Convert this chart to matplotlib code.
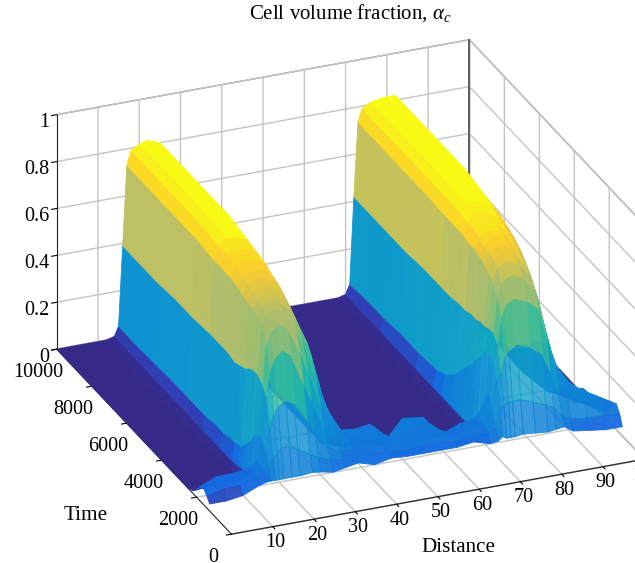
import numpy as np
import matplotlib
matplotlib.use('Agg')
import matplotlib.pyplot as plt
from matplotlib.colors import LinearSegmentedColormap

distance = [0, 4, 8, 12, 14, 15, 16, 17, 18, 20, 22, 25, 27, 30, 33, 36, 40, 44, 48, 52, 56, 60, 64, 68,
            70, 71, 72, 73, 74, 76, 79, 82, 84, 86, 88, 92, 96, 100]
time = [1250, 1400, 1600, 1800, 2000, 2250, 2500, 2750, 3000, 3300, 3600, 4000, 4500, 5000, 6000, 7000, 8000, 9000, 10000]

# one line per distance, values along time
alpha_c = [
    [.03, .05, .07, .06, .03, .01, 0, 0, 0, 0, 0, 0, 0, 0, 0, 0, 0, 0, 0],
    [.03, .07, .09, .09, .05, .01, 0, 0, 0, 0, 0, 0, 0, 0, 0, 0, 0, 0, 0],
    [.04, .07, .09, .09, .06, .01, 0, 0, 0, 0, 0, 0, 0, 0, 0, 0, 0, 0, 0],
    [.07, .09, .10, .10, .07, .02, .005, 0, 0, 0, 0, 0, 0, 0, 0, 0, 0, 0, 0],
    [.08, .10, .12, .13, .10, .05, .03, .02, .015, .01, .01, .01, .01, .01, .01, .01, .01, .01, .01],
    [.08, .12, .18, .22, .22, .20, .15, .12, .09, .08, .08, .07, .07, .06, .06, .06, .055, .05, .05],
    [.08, .16, .28, .40, .43, .45, .45, .44, .42, .41, .40, .41, .41, .41, .40, .40, .39, .39, .39],
    [.08, .18, .33, .50, .60, .66, .68, .69, .69, .70, .71, .72, .72, .72, .73, .73, .73, .73, .73],
    [.08, .20, .36, .55, .65, .70, .72, .73, .74, .75, .76, .77, .78, .78, .79, .79, .79, .79, .79],
    [.08, .20, .38, .58, .67, .71, .73, .74, .75, .76, .77, .78, .79, .80, .81, .81, .81, .81, .81],
    [.08, .18, .36, .55, .65, .70, .72, .74, .75, .76, .77, .78, .79, .80, .82, .82, .82, .82, .82],
    [.085, .15, .28, .42, .54, .62, .67, .69, .71, .73, .74, .76, .77, .78, .80, .80, .80, .80, .80],
    [.08, .13, .22, .34, .45, .53, .58, .62, .64, .66, .68, .69, .70, .71, .70, .68, .68, .68, .68],
    [.07, .11, .15, .22, .30, .38, .46, .50, .50, .50, .48, .47, .45, .43, .40, .40, .40, .40, .40],
    [.08, .10, .12, .16, .20, .24, .26, .25, .20, .14, .12, .11, .10, .10, .10, .10, .10, .10, .10],
    [.09, .11, .12, .13, .14, .15, .13, .08, .03, .01, .01, .01, .01, .01, .01, .01, .01, .01, .01],
    [.07, .10, .12, .13, .14, .14, .12, .03, .005, 0, 0, 0, 0, 0, 0, 0, 0, 0, 0],
    [.085, .10, .12, .13, .14, .14, .13, .03, .005, 0, 0, 0, 0, 0, 0, 0, 0, 0, 0],
    [.08, .09, .10, .10, .09, .07, .05, .01, 0, 0, 0, 0, 0, 0, 0, 0, 0, 0, 0],
    [.08, .10, .12, .13, .14, .14, .13, .02, 0, 0, 0, 0, 0, 0, 0, 0, 0, 0, 0],
    [.08, .10, .12, .13, .14, .14, .12, .02, 0, 0, 0, 0, 0, 0, 0, 0, 0, 0, 0],
    [.08, .09, .10, .10, .08, .05, .03, .005, 0, 0, 0, 0, 0, 0, 0, 0, 0, 0, 0],
    [.09, .10, .12, .12, .11, .08, .04, .005, 0, 0, 0, 0, 0, 0, 0, 0, 0, 0, 0],
    [.07, .10, .12, .13, .12, .09, .04, .01, .005, 0, 0, 0, 0, 0, 0, 0, 0, 0, 0],
    [.075, .12, .18, .23, .20, .13, .05, .02, .015, .01, .01, .01, .01, .01, .01, .01, .01, .01, .01],
    [.09, .20, .30, .36, .38, .38, .34, .30, .26, .23, .19, .14, .10, .08, .07, .07, .06, .06, .05],
    [.08, .20, .33, .44, .47, .47, .46, .46, .45, .45, .44, .44, .43, .43, .43, .42, .42, .42, .42],
    [.08, .22, .40, .55, .62, .66, .68, .70, .71, .72, .72, .73, .73, .73, .735, .735, .735, .735, .735],
    [.08, .22, .42, .60, .68, .72, .74, .75, .76, .77, .78, .78, .79, .79, .79, .79, .79, .79, .79],
    [.085, .22, .44, .62, .70, .74, .76, .77, .78, .79, .80, .80, .81, .81, .81, .81, .81, .81, .81],
    [.08, .20, .42, .60, .68, .72, .74, .76, .77, .78, .79, .80, .81, .82, .82, .82, .82, .82, .82],
    [.075, .18, .38, .56, .62, .66, .68, .70, .72, .74, .75, .76, .78, .80, .82, .82, .82, .82, .82],
    [.08, .16, .30, .42, .48, .54, .58, .62, .65, .68, .70, .72, .74, .75, .75, .72, .72, .72, .72],
    [.085, .12, .20, .30, .34, .38, .42, .46, .50, .52, .54, .55, .55, .52, .45, .42, .40, .40, .40],
    [.06, .10, .22, .24, .24, .26, .28, .30, .30, .28, .25, .20, .16, .13, .10, .10, .10, .10, .10],
    [.05, .09, .20, .18, .17, .16, .14, .11, .08, .05, .03, .02, .01, 0, 0, 0, 0, 0, 0],
    [.04, .09, .13, .14, .13, .10, .07, .04, .02, .01, 0, 0, 0, 0, 0, 0, 0, 0, 0],
    [.04, .08, .11, .10, .06, .03, .01, 0, 0, 0, 0, 0, 0, 0, 0, 0, 0, 0, 0],
]

distance_ticks = [10, 20, 30, 40, 50, 60, 70, 80, 90, 100]
time_ticks = [0, 2000, 4000, 6000, 8000, 10000]
fraction_ticks = [0, 0.2, 0.4, 0.6, 0.8, 1]
fraction_labels = ['0', '0.2', '0.4', '0.6', '0.8', '1']

plt.rcParams['font.family'] = 'Liberation Serif'
plt.rcParams['mathtext.fontset'] = 'custom'
plt.rcParams['mathtext.rm'] = 'Liberation Serif'
plt.rcParams['mathtext.it'] = 'Liberation Serif:italic'
plt.rcParams['grid.color'] = '#c4c4c4'
plt.rcParams['grid.linewidth'] = 1.0

# parula, stretched a bit to get the bands of the picture
cmap = LinearSegmentedColormap.from_list('bands', [
    (0.0, (53/255, 42/255, 135/255)), (0.036, (50/255, 52/255, 160/255)), (0.07, (48/255, 62/255, 180/255)),
    (0.11, (20/255, 105/255, 225/255)), (0.18, (15/255, 125/255, 215/255)), (0.47, (15/255, 145/255, 210/255)),
    (0.6, (15/255, 170/255, 190/255)), (0.72, (60/255, 190/255, 150/255)), (0.84, (165/255, 190/255, 110/255)),
    (0.88, (178/255, 190/255, 108/255)), (0.95, (252/255, 205/255, 45/255)), (1.0, (248/255, 250/255, 20/255))])

X, Y = np.meshgrid(distance, time)
Z = np.array(alpha_c).T

# each quad takes the colour of its highest corner, steep quads let the back show through
top = np.maximum.reduce([Z[:-1, :-1], Z[1:, :-1], Z[:-1, 1:], Z[1:, 1:]])
colors = np.ones(Z.shape + (4,))
colors[:-1, :-1] = cmap(top / Z.max())
slope = np.abs(np.diff(Z, axis=0))[:, :-1] / np.diff(time)[:, None]
colors[:-1, :-1, 3] = 1 - np.clip(slope * 200, 0, 0.25)

fig = plt.figure(figsize=(6.35, 5.63), dpi=100)
ax = fig.add_axes([6.4/635, -68/563, 670/635, 670/563], projection='3d', proj_type='ortho')
ax.view_init(elev=26, azim=-112.5)
ax.set_box_aspect((447, 457, 261))
ax.set_xlim(0, 100, view_margin=0)
ax.set_ylim(0, 10000, view_margin=0)
ax.set_zlim(0, 1, view_margin=0)

ax.plot_surface(X, Y, Z, facecolors=colors, linewidth=0.6, shade=False, rstride=1, cstride=1)
ax.plot([100, 100], [10000, 10000], [0, 1], color='#555555', lw=1.3, zorder=0)

ax.set_xticks(distance_ticks)
ax.set_yticks(time_ticks)
ax.set_zticks(fraction_ticks)
ax.set_zticklabels(fraction_labels)
ax.tick_params(labelsize=14.5)
ax.tick_params(axis='x', pad=-4)
ax.tick_params(axis='y', pad=3)
ax.tick_params(axis='z', pad=-5)
for axis in (ax.xaxis, ax.yaxis, ax.zaxis):
    axis.set_pane_color((1, 1, 1, 1))
    axis.pane.set_edgecolor('#8c8c8c')
    axis.line.set_color('#222222')
    axis._axinfo['tick']['inward_factor'] = 0.15
    axis._axinfo['tick']['outward_factor'] = 0
for lab in ax.yaxis.get_ticklabels():
    lab.set_va('top')
for lab in ax.zaxis.get_ticklabels():
    lab.set_ha('right')

fig.text(350/635, 1 - 13/563, r'Cell volume fraction, $\alpha_c$', fontsize=15, ha='center', va='center')
fig.text(86/635, 1 - 515/563, 'Time', fontsize=15.2, ha='center', va='center')
fig.text(458/635, 1 - 548/563, 'Distance', fontsize=15.2, ha='center', va='center')

fig.savefig('out.png', dpi=100)
